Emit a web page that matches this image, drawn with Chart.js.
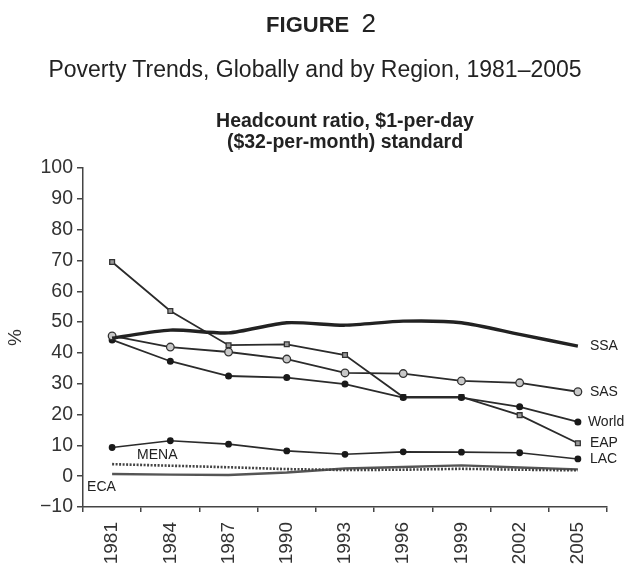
<!DOCTYPE html>
<html>
<head>
<meta charset="utf-8">
<script src="https://cdn.jsdelivr.net/npm/chart.js@4.4.0/dist/chart.umd.min.js"></script>
<style>
  body { margin: 0; background: #fff; }
  #wrap { position: relative; width: 625px; height: 568px; font-family: "Liberation Sans", Arial, sans-serif; color: #222; }
  #wrap canvas { position: absolute; left: 0; top: 0; }
  .t { position: absolute; white-space: nowrap; line-height: 1; transform: translateX(-50%); }
</style>
</head>
<body>
<div id="wrap">
  <canvas id="myChart" width="625" height="568"></canvas>
  <div class="t" style="left:321px; top:10px; font-size:22px;"><b>FIGURE</b>&nbsp;&nbsp;<span style="font-size:26px">2</span></div>
  <div class="t" style="left:315px; top:58px; font-size:23px;">Poverty Trends, Globally and by Region, 1981–2005</div>
  <div class="t" style="left:345px; top:110px; font-size:19.5px; font-weight:bold; text-align:center; line-height:21px;">Headcount ratio, $1-per-day<br>($32-per-month) standard</div>
</div>
<script>
// values (% of population)
var years = ["1981", "1984", "1987", "1990", "1993", "1996", "1999", "2002", "2005"];
var ssa = [44.8, 47.4, 46.5, 49.8, 49.0, 50.3, 49.8, 46.0, 42.2];
var eap = [69.5, 53.6, 42.5, 42.8, 39.3, 25.7, 25.7, 19.8, 10.7];
var sas = [45.5, 41.9, 40.3, 38.0, 33.5, 33.3, 30.9, 30.3, 27.4];
var world = [44.2, 37.3, 32.5, 32.0, 29.9, 25.5, 25.5, 22.5, 17.6];
var lac = [9.3, 11.5, 10.4, 8.2, 7.1, 7.9, 7.8, 7.6, 5.6];
var mena = [3.9, 3.4, 2.9, 2.3, 2.0, 2.1, 2.4, 2.1, 1.9];
var eca = [0.7, 0.5, 0.4, 1.2, 2.5, 3.0, 3.5, 2.8, 2.2];
var yMin = -10, yMax = 100, yStep = 10;

var ink = "#2b2b2b";

// region names written next to the lines
var lineLabels = {
  id: "lineLabels",
  afterDatasetsDraw: function (chart) {
    var c = chart.ctx;
    c.save();
    c.font = "14px 'Liberation Sans', Arial, sans-serif";
    c.fillStyle = "#222";
    c.textBaseline = "middle";
    c.textAlign = "left";
    chart.data.datasets.forEach(function (ds, i) {
      var p = ds.tag;
      var pt = chart.getDatasetMeta(i).data[p.at];
      c.fillText(ds.label, pt.x + p.dx, pt.y + p.dy);
    });
    c.restore();
  }
};

var ctx = document.getElementById("myChart").getContext("2d");
// eslint-disable-next-line no-undef
var myChart = new Chart(ctx, {
  type: "line",
  data: {
    labels: years,
    datasets: [
      {
        label: "SSA",
        data: ssa,
        borderColor: "#222",
        borderWidth: 3.4,
        pointRadius: 0,
        tension: 0.25,
        tag: { at: 8, dx: 12, dy: 0 },
      },
      {
        label: "SAS",
        data: sas,
        borderColor: ink,
        borderWidth: 1.8,
        pointRadius: 3.8,
        pointBackgroundColor: "#c8c8c8",
        pointBorderColor: "#333",
        pointBorderWidth: 1.3,
        tag: { at: 8, dx: 12, dy: 0 },
      },
      {
        label: "World",
        data: world,
        borderColor: ink,
        borderWidth: 1.8,
        pointRadius: 2.6,
        pointBackgroundColor: "#1a1a1a",
        pointBorderColor: "#1a1a1a",
        tag: { at: 8, dx: 10, dy: 0 },
      },
      {
        label: "EAP",
        data: eap,
        borderColor: ink,
        borderWidth: 1.8,
        pointStyle: "rect",
        pointRadius: 3.4,
        pointBackgroundColor: "#999",
        pointBorderColor: "#333",
        pointBorderWidth: 1.3,
        tag: { at: 8, dx: 12, dy: 0 },
      },
      {
        label: "LAC",
        data: lac,
        borderColor: ink,
        borderWidth: 1.6,
        pointRadius: 2.6,
        pointBackgroundColor: "#1a1a1a",
        pointBorderColor: "#1a1a1a",
        tag: { at: 8, dx: 12, dy: 0 },
      },
      {
        label: "MENA",
        data: mena,
        borderColor: "#444",
        borderWidth: 2.6,
        borderDash: [2, 1.5],
        pointRadius: 0,
        tag: { at: 0, dx: 25, dy: -9 },
      },
      {
        label: "ECA",
        data: eca,
        borderColor: "#555",
        borderWidth: 2.4,
        pointRadius: 0,
        tag: { at: 0, dx: -25, dy: 13 },
      },
    ],
  },
  options: {
    responsive: false,
    animation: false,
    layout: { padding: { top: 168, right: 18, left: 0, bottom: 0 } },
    plugins: {
      legend: { display: false },
      tooltip: { enabled: false },
    },
    scales: {
      x: {
        offset: true,
        grid: { offset: true, drawOnChartArea: false, drawTicks: true, tickLength: 5, color: "#444", lineWidth: 1.5 },
        border: { display: true, color: "#444", width: 1.5 },
        ticks: {
          minRotation: 90,
          maxRotation: 90,
          padding: 10,
          color: "#333",
          font: { family: "'Liberation Sans', Arial, sans-serif", size: 19 },
        },
        afterFit: function (scale) { scale.height = 61; },
      },
      y: {
        min: yMin,
        max: yMax,
        ticks: {
          stepSize: yStep,
          padding: 4,
          color: "#333",
          font: { family: "'Liberation Sans', Arial, sans-serif", size: 19.5 },
          callback: function (v) { return v < 0 ? "\u2212" + Math.abs(v) : v; },
        },
        grid: { drawOnChartArea: false, drawTicks: true, tickLength: 6, color: "#444", lineWidth: 1.5 },
        border: { display: true, color: "#444", width: 1.5 },
        title: {
          display: true,
          text: "%",
          color: "#333",
          padding: { top: 4, bottom: 0 },
          font: { family: "'Liberation Sans', Arial, sans-serif", size: 19 },
        },
        afterFit: function (scale) { scale.width = 83; },
      },
    },
  },
  plugins: [lineLabels],
});
</script>
</body>
</html>
